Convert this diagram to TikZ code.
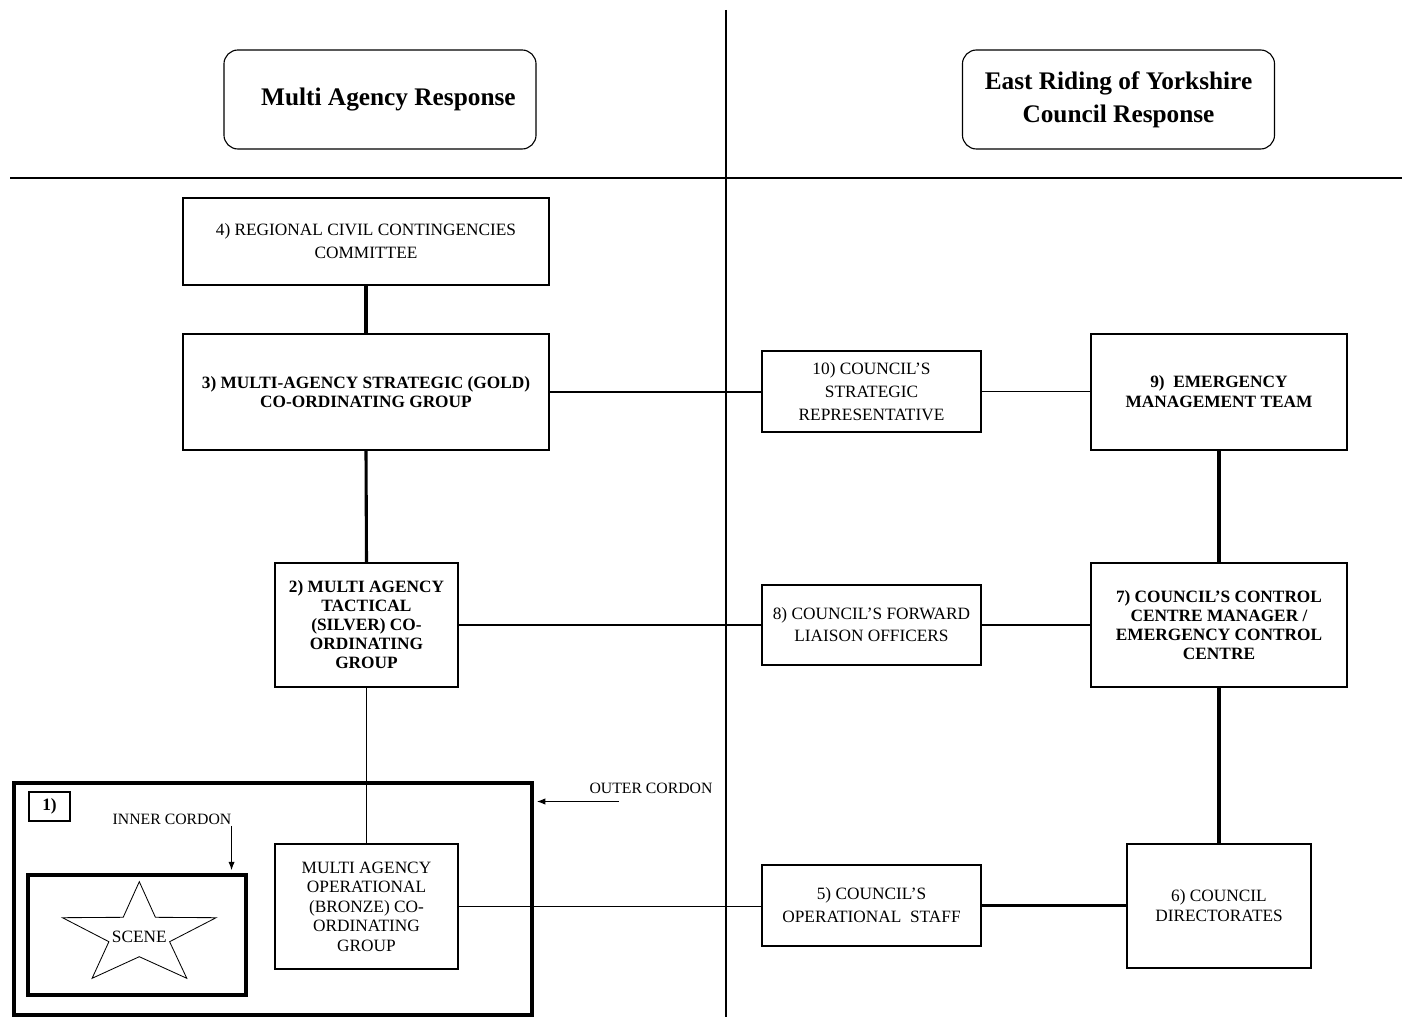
\documentclass[tikz,border=0pt]{standalone}
\usepackage{fontspec}
\setmainfont{Liberation Serif}
\usetikzlibrary{positioning, arrows.meta, calc}

\begin{document}
\begin{tikzpicture}[
    x=0.025cm, y=-0.025cm,
    font=\fontsize{12.3}{14}\selectfont,
    >={Latex[length=6pt, width=4.5pt]},
    head/.style={draw, rounded corners=10pt, align=center, line width=0.8pt,
                 minimum width=7.8cm, minimum height=2.475cm,
                 font=\fontsize{18}{23.5}\selectfont\bfseries},
    unit/.style={draw, align=center, line width=0.9pt, inner sep=2pt},
    tag/.style={font=\fontsize{11.2}{13}\selectfont, inner sep=1pt},
    cordon/.style={draw, line width=3.4pt, inner sep=0pt},
    link/.style={line width=1pt},
    heavy/.style={line width=2.2pt},
    divider/.style={line width=0.8pt},
    arr/.style={->, line width=0.7pt},
]
\useasboundingbox (0,0) rectangle (1402,1017);

% ── page dividers ────────────────────────────────────────────────────────────
\draw[divider] (726,10) -- (726,1017);
\draw[divider] (10,178) -- (1402,178);

% ── column headings ──────────────────────────────────────────────────────────
\node[head] (multi) at (380,99.5) {\hspace*{12pt}Multi Agency Response};
\node[head] (eryc) at (1118.5,99.5) {East Riding of Yorkshire\\Council Response};

% ── multi agency column ──────────────────────────────────────────────────────
\node[unit, minimum width=9.15cm, minimum height=2.175cm,
      font=\fontsize{12.3}{16.4}\selectfont] (rcc) at (366,241.5)
    {4) REGIONAL CIVIL CONTINGENCIES\\COMMITTEE};
\node[unit, minimum width=9.15cm, minimum height=2.9cm,
      font=\fontsize{12.3}{13.5}\selectfont\bfseries] (gold) at (366,392)
    {3) MULTI-AGENCY STRATEGIC (GOLD)\\CO-ORDINATING GROUP};
\node[unit, minimum width=4.575cm, minimum height=3.1cm,
      font=\fontsize{12.3}{13.5}\selectfont\bfseries] (silver) at (366.5,625)
    {2) MULTI AGENCY\\TACTICAL\\(SILVER) CO-\\ORDINATING\\GROUP};
\node[unit, minimum width=4.575cm, minimum height=3.125cm,
      font=\fontsize{12.3}{13.9}\selectfont] (bronze) at (366.5,906.5)
    {MULTI AGENCY\\OPERATIONAL\\(BRONZE) CO-\\ORDINATING\\GROUP};

% ── council column ───────────────────────────────────────────────────────────
\node[unit, minimum width=5.475cm, minimum height=2.025cm,
      font=\fontsize{12.3}{16.4}\selectfont] (csr) at (871.5,391.5)
    {10) COUNCIL'S\\STRATEGIC\\REPRESENTATIVE};
\node[unit, minimum width=6.4cm, minimum height=2.9cm,
      font=\fontsize{12.3}{14.2}\selectfont\bfseries] (emt) at (1219,392)
    {9)\ \ EMERGENCY\\MANAGEMENT TEAM};
\node[unit, minimum width=5.475cm, minimum height=2cm,
      font=\fontsize{12.3}{15.6}\selectfont] (clo) at (871.5,625)
    {8) COUNCIL'S FORWARD\\LIAISON OFFICERS};
\node[unit, minimum width=6.4cm, minimum height=3.1cm,
      font=\fontsize{12.3}{13.5}\selectfont\bfseries] (ccc) at (1219,625)
    {7) COUNCIL'S CONTROL\\CENTRE MANAGER /\\EMERGENCY CONTROL\\CENTRE};
\node[unit, minimum width=5.475cm, minimum height=2.025cm,
      font=\fontsize{12.3}{16.4}\selectfont] (cos) at (871.5,905.5)
    {5) COUNCIL'S\\OPERATIONAL\ \ STAFF};
\node[unit, minimum width=4.6cm, minimum height=3.1cm,
      font=\fontsize{12.3}{14.2}\selectfont] (dir) at (1219,906)
    {6) COUNCIL\\DIRECTORATES};

% ── cordons round the scene ──────────────────────────────────────────────────
\node[cordon, minimum width=12.95cm, minimum height=5.8cm] (outer) at (273,899) {};
\node[cordon, minimum width=5.45cm, minimum height=3cm] (inner) at (137,935) {};
\node[unit, inner sep=0pt, minimum width=1.025cm, minimum height=0.725cm,
      font=\fontsize{12.3}{14}\selectfont\bfseries] (one) at (49.5,806.5) {1)};

\draw[line width=0.6pt] (139.3,881.7) -- (155.4,917.3) -- (216.1,917.7)
    -- (169.6,941.7) -- (186.8,978.3) -- (139.3,956.7) -- (92.1,978.3)
    -- (108.9,941.7) -- (62.5,917.7) -- (123.2,917.3) -- cycle;
\node[inner sep=0pt] (scene) at (139.3,936.7) {SCENE};

\node[tag] (innerlbl) at (172,819) {INNER CORDON};
\node[tag] (outerlbl) at (651,788) {OUTER CORDON};
\coordinate (oc) at (619,801.5);

% ── edges ────────────────────────────────────────────────────────────────────
\draw[heavy] (rcc.south) -- (gold.north);
\draw[heavy] (gold.south) -- (silver.north);
\draw[link] (silver.south) -- (bronze.north);
\draw[link] (gold.east) -- (gold.east -| csr.west);
\draw[link] (csr.east) -- (csr.east -| emt.west);
\draw[link] (silver.east) -- (clo.west);
\draw[link] (clo.east) -- (ccc.west);
\draw[link] (bronze.east) -- (bronze.east -| cos.west);
\draw[heavy] (cos.east) -- (cos.east -| dir.west);
\draw[heavy] (emt.south) -- (ccc.north);
\draw[heavy] (ccc.south) -- (dir.north);
\draw[arr] ([xshift=-1pt]innerlbl.south east) -- ([xshift=-1pt, yshift=1.7pt]innerlbl.south east |- inner.north);
\draw[arr] (oc) -- ([xshift=1.7pt]oc -| outer.east);

\end{tikzpicture}
\end{document}
